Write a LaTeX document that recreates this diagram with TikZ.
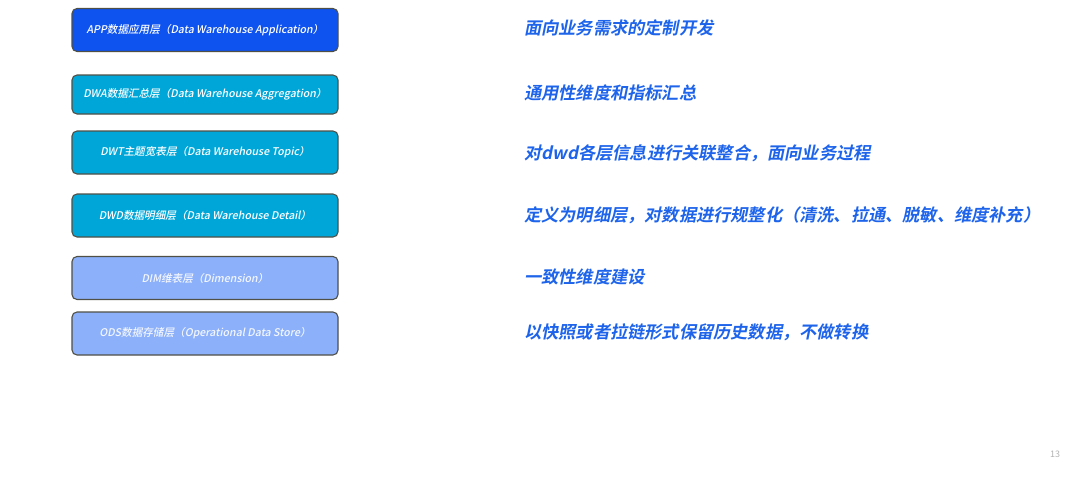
\documentclass[tikz,border=0pt]{standalone}
\usepackage{fontspec}
\setmainfont{Noto Sans CJK SC}[BoldFont={Noto Sans CJK SC Bold}]
\newfontfamily\cjk{Noto Sans CJK SC}[FakeSlant=0.2,BoldFont={Noto Sans CJK SC Bold},BoldFeatures={FakeSlant=0.2}]
\newfontfamily\cjkmed{Noto Sans CJK SC Medium}[FakeSlant=0.2]
\definecolor{appblue}{RGB}{14,82,240}
\definecolor{dwcyan}{RGB}{0,166,216}
\definecolor{dimblue}{RGB}{140,176,250}
\definecolor{rimgray}{RGB}{80,80,70}
\definecolor{noteblue}{RGB}{30,100,235}
\begin{document}
\begin{tikzpicture}[
    x=1pt, y=-1pt,
    layer/.style={draw=rimgray, line width=1.1pt, rounded corners=5pt,
        minimum width=266pt, minimum height=43pt, inner sep=0pt,
        text=white, font=\cjkmed\fontsize{10.6}{12}\selectfont},
    note/.style={anchor=west, inner sep=0pt, text=noteblue,
        font=\cjk\bfseries\fontsize{17.2}{20}\selectfont}
]
\useasboundingbox (0,0) rectangle (1080,480);

% Strati del data warehouse
\node[layer, fill=appblue] (app) at (205,30) {APP数据应用层（Data Warehouse Application）};
\node[layer, fill=dwcyan, minimum height=39pt] (dwa) at (205,94.5) {DWA数据汇总层（Data Warehouse Aggregation）};
\node[layer, fill=dwcyan] (dwt) at (205,152.5) {DWT主题宽表层（Data Warehouse Topic）};
\node[layer, fill=dwcyan] (dwd) at (205,215.5) {DWD数据明细层（Data Warehouse Detail）};
\node[layer, fill=dimblue, text=white!90!dimblue] (dim) at (205,278) {DIM维表层（Dimension）};
\node[layer, fill=dimblue, text=white!90!dimblue] (ods) at (205,333.5) {ODS数据存储层（Operational Data Store）};

% Descrizioni
\node[note] (appnote) at (524,28) {面向业务需求的定制开发};
\node[note] (dwanote) at (524,93) {通用性维度和指标汇总};
\node[note] (dwtnote) at (524,153) {对dwd各层信息进行关联整合，面向业务过程};
\node[note] (dwdnote) at (524,215) {定义为明细层，对数据进行规整化（清洗、拉通、脱敏、维度补充）};
\node[note] (dimnote) at (524,277) {一致性维度建设};
\node[note] (odsnote) at (524,332) {以快照或者拉链形式保留历史数据，不做转换};

% Numero di pagina
\node[text=black!30, font=\fontsize{9}{10}\selectfont] (pagina) at (1055,454) {13};
\end{tikzpicture}
\end{document}
